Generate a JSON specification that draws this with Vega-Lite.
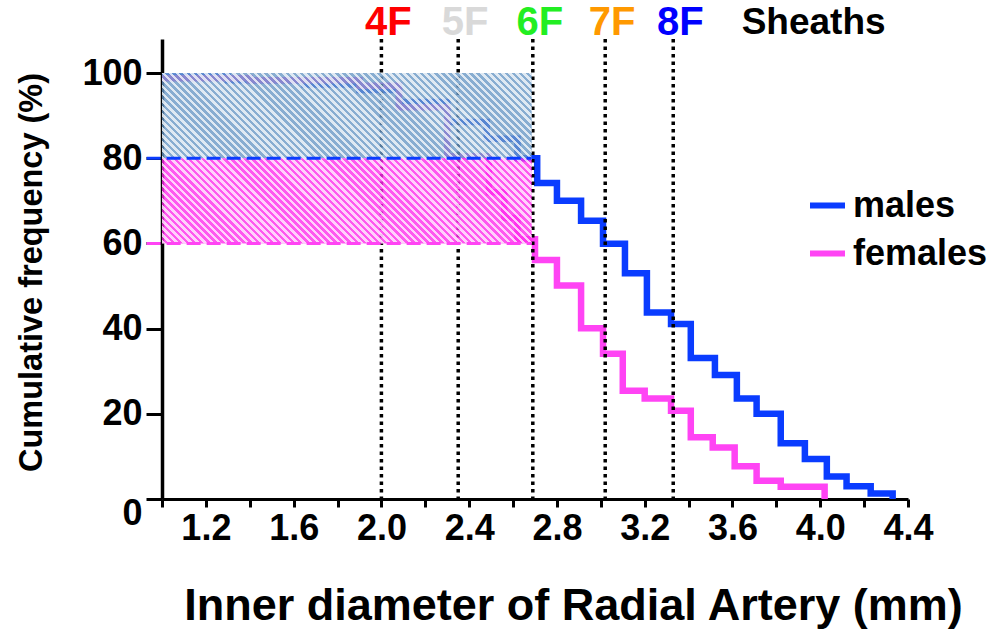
{
  "$schema": "https://vega.github.io/schema/vega-lite/v6.json",
  "width": 746,
  "height": 460,
  "autosize": {"type": "none"},
  "padding": {"left": 162, "top": 39, "right": 88, "bottom": 131},
  "background": "white",
  "config": {"view": {"stroke": null}, "font": "Liberation Sans"},
  "datasets": {
    "curves": [
      {"sex": "males", "d": 1.0, "p": 99.2}, {"sex": "males", "d": 1.3, "p": 98.3}, {"sex": "males", "d": 1.65, "p": 97.3}, {"sex": "males", "d": 1.9, "p": 96},
      {"sex": "males", "d": 2.08, "p": 93.2}, {"sex": "males", "d": 2.3, "p": 88.5}, {"sex": "males", "d": 2.48, "p": 84.6}, {"sex": "males", "d": 2.62, "p": 80},
      {"sex": "males", "d": 2.71, "p": 74.2}, {"sex": "males", "d": 2.8, "p": 70.0}, {"sex": "males", "d": 2.91, "p": 65.3}, {"sex": "males", "d": 3.01, "p": 59.9},
      {"sex": "males", "d": 3.11, "p": 53.0}, {"sex": "males", "d": 3.21, "p": 43.8}, {"sex": "males", "d": 3.32, "p": 41.1}, {"sex": "males", "d": 3.41, "p": 33.1},
      {"sex": "males", "d": 3.52, "p": 29.1}, {"sex": "males", "d": 3.62, "p": 23.6}, {"sex": "males", "d": 3.71, "p": 20.0}, {"sex": "males", "d": 3.82, "p": 13.1},
      {"sex": "males", "d": 3.93, "p": 9.4}, {"sex": "males", "d": 4.03, "p": 5.3}, {"sex": "males", "d": 4.12, "p": 3.0}, {"sex": "males", "d": 4.23, "p": 1.3},
      {"sex": "males", "d": 4.33, "p": 0},
      {"sex": "females", "d": 1.0, "p": 98.8}, {"sex": "females", "d": 1.4, "p": 98.3}, {"sex": "females", "d": 1.9, "p": 97}, {"sex": "females", "d": 2.08, "p": 92},
      {"sex": "females", "d": 2.3, "p": 80.5}, {"sex": "females", "d": 2.49, "p": 72}, {"sex": "females", "d": 2.56, "p": 66}, {"sex": "females", "d": 2.62, "p": 61},
      {"sex": "females", "d": 2.7, "p": 56.1}, {"sex": "females", "d": 2.8, "p": 50.1}, {"sex": "females", "d": 2.91, "p": 40.1}, {"sex": "females", "d": 3.01, "p": 34.1},
      {"sex": "females", "d": 3.1, "p": 25.4}, {"sex": "females", "d": 3.2, "p": 23.6}, {"sex": "females", "d": 3.32, "p": 20.7}, {"sex": "females", "d": 3.41, "p": 14.5},
      {"sex": "females", "d": 3.51, "p": 12.1}, {"sex": "females", "d": 3.61, "p": 7.7}, {"sex": "females", "d": 3.71, "p": 4.3}, {"sex": "females", "d": 3.82, "p": 2.9},
      {"sex": "females", "d": 4.02, "p": 0}
    ],
    "sheaths": [
      {"label": "4F", "od": 2.0}, {"label": "5F", "od": 2.35}, {"label": "6F", "od": 2.69}, {"label": "7F", "od": 3.02}, {"label": "8F", "od": 3.33}
    ],
    "bands": [
      {"g": "males", "x0": 1.0, "x1": 2.685, "lo": 80, "hi": 100},
      {"g": "females", "x0": 1.0, "x1": 2.685, "lo": 60, "hi": 80}
    ],
    "hatch": [{"x0": 1.0, "x1": 2.685, "lo": 60, "hi": 100}],
    "refs": [
      {"g": "males", "x0": 0.93, "x1": 2.685, "v": 80},
      {"g": "females", "x0": 0.93, "x1": 2.685, "v": 60}
    ]
  },
  "layer": [
    {
      "data": {"name": "curves"},
      "mark": {"type": "line", "interpolate": "step-after", "strokeWidth": 6.5, "strokeJoin": "miter", "clip": false},
      "encoding": {
        "x": {"field": "d", "type": "quantitative",
          "scale": {"domain": [1.0, 4.4], "nice": false, "zero": false},
          "axis": {"values": [1.0, 1.2, 1.4, 1.6, 1.8, 2.0, 2.2, 2.4, 2.6, 2.8, 3.0, 3.2, 3.4, 3.6, 3.8, 4.0, 4.2, 4.4],
            "labelExpr": "round(datum.value*10)%4==0 ? format(datum.value,'.1f') : ''",
            "title": "Inner diameter of Radial Artery (mm)", "grid": false,
            "tickSize": 8, "tickWidth": 3, "tickColor": "black", "domainWidth": 3, "domainColor": "black",
            "labelFontSize": 36, "labelFontWeight": "bold", "labelColor": "black", "labelPadding": 4,
            "labelFlush": false, "labelOverlap": false,
            "titleFontSize": 45, "titleFontWeight": "bold", "titleColor": "black",
            "titleX": 411, "titleY": 120, "titleBaseline": "alphabetic", "titleAlign": "center"}},
        "y": {"field": "p", "type": "quantitative",
          "scale": {"domain": [0, 108], "nice": false},
          "axis": {"values": [0, 20, 40, 60, 80, 100], "title": "Cumulative frequency (%)", "grid": false,
            "tickSize": 16, "tickWidth": 3, "tickColor": "black", "domainWidth": 3.5, "domainColor": "black",
            "labelFontSize": 36, "labelFontWeight": "bold", "labelColor": "black", "labelPadding": 4,
            "labelOffset": {"condition": {"test": "datum.value == 0", "value": 14}, "value": 0},
            "labelFlush": false,
            "titleFontSize": 32.5, "titleFontWeight": "bold", "titleColor": "black",
            "titleX": -131, "titleY": 233, "titleAngle": -90, "titleAlign": "center", "titleBaseline": "middle"}},
        "color": {"field": "sex", "type": "nominal",
          "scale": {"domain": ["males", "females"], "range": ["#0a3cff", "#ff44f4"]},
          "legend": {"orient": "none", "legendX": 645, "legendY": 146, "title": null,
            "symbolType": "stroke", "symbolStrokeWidth": 6, "symbolSize": 1225,
            "labelFontSize": 36, "labelFontWeight": "bold", "labelColor": "black",
            "labelOffset": 5, "rowPadding": 9, "padding": 0}}
      }
    },
    {
      "data": {"name": "sheaths"},
      "mark": {"type": "rule", "strokeWidth": 3.5, "strokeDash": [3.5, 4], "color": "black"},
      "encoding": {"x": {"field": "od", "type": "quantitative"}}
    },
    {
      "data": {"name": "bands"},
      "mark": {"type": "rect", "fillOpacity": 0.8},
      "encoding": {
        "x": {"field": "x0", "type": "quantitative"}, "x2": {"field": "x1"},
        "y": {"field": "lo", "type": "quantitative"}, "y2": {"field": "hi"},
        "fill": {"condition": {"test": "datum.g == 'males'", "value": "#6a98c6"}, "value": "#ff2eec"}
      }
    },
    {
      "data": {"name": "hatch"},
      "mark": {"type": "rect", "fill": {"gradient": "linear", "x1": 0, "y1": 1, "x2": 1.5777, "y2": 0.273, "stops": [
{"offset":0,"color":"#fffb"},{"offset":0.005,"color":"#fffb"},{"offset":0.005,"color":"#fff0"},{"offset":0.01,"color":"#fff0"},
{"offset":0.01,"color":"#fffb"},{"offset":0.015,"color":"#fffb"},{"offset":0.015,"color":"#fff0"},{"offset":0.02,"color":"#fff0"},
{"offset":0.02,"color":"#fffb"},{"offset":0.025,"color":"#fffb"},{"offset":0.025,"color":"#fff0"},{"offset":0.03,"color":"#fff0"},
{"offset":0.03,"color":"#fffb"},{"offset":0.035,"color":"#fffb"},{"offset":0.035,"color":"#fff0"},{"offset":0.04,"color":"#fff0"},
{"offset":0.04,"color":"#fffb"},{"offset":0.045,"color":"#fffb"},{"offset":0.045,"color":"#fff0"},{"offset":0.05,"color":"#fff0"},
{"offset":0.05,"color":"#fffb"},{"offset":0.055,"color":"#fffb"},{"offset":0.055,"color":"#fff0"},{"offset":0.06,"color":"#fff0"},
{"offset":0.06,"color":"#fffb"},{"offset":0.065,"color":"#fffb"},{"offset":0.065,"color":"#fff0"},{"offset":0.07,"color":"#fff0"},
{"offset":0.07,"color":"#fffb"},{"offset":0.075,"color":"#fffb"},{"offset":0.075,"color":"#fff0"},{"offset":0.08,"color":"#fff0"},
{"offset":0.08,"color":"#fffb"},{"offset":0.085,"color":"#fffb"},{"offset":0.085,"color":"#fff0"},{"offset":0.09,"color":"#fff0"},
{"offset":0.09,"color":"#fffb"},{"offset":0.095,"color":"#fffb"},{"offset":0.095,"color":"#fff0"},{"offset":0.1,"color":"#fff0"},
{"offset":0.1,"color":"#fffb"},{"offset":0.105,"color":"#fffb"},{"offset":0.105,"color":"#fff0"},{"offset":0.11,"color":"#fff0"},
{"offset":0.11,"color":"#fffb"},{"offset":0.115,"color":"#fffb"},{"offset":0.115,"color":"#fff0"},{"offset":0.12,"color":"#fff0"},
{"offset":0.12,"color":"#fffb"},{"offset":0.125,"color":"#fffb"},{"offset":0.125,"color":"#fff0"},{"offset":0.13,"color":"#fff0"},
{"offset":0.13,"color":"#fffb"},{"offset":0.135,"color":"#fffb"},{"offset":0.135,"color":"#fff0"},{"offset":0.14,"color":"#fff0"},
{"offset":0.14,"color":"#fffb"},{"offset":0.145,"color":"#fffb"},{"offset":0.145,"color":"#fff0"},{"offset":0.15,"color":"#fff0"},
{"offset":0.15,"color":"#fffb"},{"offset":0.155,"color":"#fffb"},{"offset":0.155,"color":"#fff0"},{"offset":0.16,"color":"#fff0"},
{"offset":0.16,"color":"#fffb"},{"offset":0.165,"color":"#fffb"},{"offset":0.165,"color":"#fff0"},{"offset":0.17,"color":"#fff0"},
{"offset":0.17,"color":"#fffb"},{"offset":0.175,"color":"#fffb"},{"offset":0.175,"color":"#fff0"},{"offset":0.18,"color":"#fff0"},
{"offset":0.18,"color":"#fffb"},{"offset":0.185,"color":"#fffb"},{"offset":0.185,"color":"#fff0"},{"offset":0.19,"color":"#fff0"},
{"offset":0.19,"color":"#fffb"},{"offset":0.195,"color":"#fffb"},{"offset":0.195,"color":"#fff0"},{"offset":0.2,"color":"#fff0"},
{"offset":0.2,"color":"#fffb"},{"offset":0.205,"color":"#fffb"},{"offset":0.205,"color":"#fff0"},{"offset":0.21,"color":"#fff0"},
{"offset":0.21,"color":"#fffb"},{"offset":0.215,"color":"#fffb"},{"offset":0.215,"color":"#fff0"},{"offset":0.22,"color":"#fff0"},
{"offset":0.22,"color":"#fffb"},{"offset":0.225,"color":"#fffb"},{"offset":0.225,"color":"#fff0"},{"offset":0.23,"color":"#fff0"},
{"offset":0.23,"color":"#fffb"},{"offset":0.235,"color":"#fffb"},{"offset":0.235,"color":"#fff0"},{"offset":0.24,"color":"#fff0"},
{"offset":0.24,"color":"#fffb"},{"offset":0.245,"color":"#fffb"},{"offset":0.245,"color":"#fff0"},{"offset":0.25,"color":"#fff0"},
{"offset":0.25,"color":"#fffb"},{"offset":0.255,"color":"#fffb"},{"offset":0.255,"color":"#fff0"},{"offset":0.26,"color":"#fff0"},
{"offset":0.26,"color":"#fffb"},{"offset":0.265,"color":"#fffb"},{"offset":0.265,"color":"#fff0"},{"offset":0.27,"color":"#fff0"},
{"offset":0.27,"color":"#fffb"},{"offset":0.275,"color":"#fffb"},{"offset":0.275,"color":"#fff0"},{"offset":0.28,"color":"#fff0"},
{"offset":0.28,"color":"#fffb"},{"offset":0.285,"color":"#fffb"},{"offset":0.285,"color":"#fff0"},{"offset":0.29,"color":"#fff0"},
{"offset":0.29,"color":"#fffb"},{"offset":0.295,"color":"#fffb"},{"offset":0.295,"color":"#fff0"},{"offset":0.3,"color":"#fff0"},
{"offset":0.3,"color":"#fffb"},{"offset":0.305,"color":"#fffb"},{"offset":0.305,"color":"#fff0"},{"offset":0.31,"color":"#fff0"},
{"offset":0.31,"color":"#fffb"},{"offset":0.315,"color":"#fffb"},{"offset":0.315,"color":"#fff0"},{"offset":0.32,"color":"#fff0"},
{"offset":0.32,"color":"#fffb"},{"offset":0.325,"color":"#fffb"},{"offset":0.325,"color":"#fff0"},{"offset":0.33,"color":"#fff0"},
{"offset":0.33,"color":"#fffb"},{"offset":0.335,"color":"#fffb"},{"offset":0.335,"color":"#fff0"},{"offset":0.34,"color":"#fff0"},
{"offset":0.34,"color":"#fffb"},{"offset":0.345,"color":"#fffb"},{"offset":0.345,"color":"#fff0"},{"offset":0.35,"color":"#fff0"},
{"offset":0.35,"color":"#fffb"},{"offset":0.355,"color":"#fffb"},{"offset":0.355,"color":"#fff0"},{"offset":0.36,"color":"#fff0"},
{"offset":0.36,"color":"#fffb"},{"offset":0.365,"color":"#fffb"},{"offset":0.365,"color":"#fff0"},{"offset":0.37,"color":"#fff0"},
{"offset":0.37,"color":"#fffb"},{"offset":0.375,"color":"#fffb"},{"offset":0.375,"color":"#fff0"},{"offset":0.38,"color":"#fff0"},
{"offset":0.38,"color":"#fffb"},{"offset":0.385,"color":"#fffb"},{"offset":0.385,"color":"#fff0"},{"offset":0.39,"color":"#fff0"},
{"offset":0.39,"color":"#fffb"},{"offset":0.395,"color":"#fffb"},{"offset":0.395,"color":"#fff0"},{"offset":0.4,"color":"#fff0"},
{"offset":0.4,"color":"#fffb"},{"offset":0.405,"color":"#fffb"},{"offset":0.405,"color":"#fff0"},{"offset":0.41,"color":"#fff0"},
{"offset":0.41,"color":"#fffb"},{"offset":0.415,"color":"#fffb"},{"offset":0.415,"color":"#fff0"},{"offset":0.42,"color":"#fff0"},
{"offset":0.42,"color":"#fffb"},{"offset":0.425,"color":"#fffb"},{"offset":0.425,"color":"#fff0"},{"offset":0.43,"color":"#fff0"},
{"offset":0.43,"color":"#fffb"},{"offset":0.435,"color":"#fffb"},{"offset":0.435,"color":"#fff0"},{"offset":0.44,"color":"#fff0"},
{"offset":0.44,"color":"#fffb"},{"offset":0.445,"color":"#fffb"},{"offset":0.445,"color":"#fff0"},{"offset":0.45,"color":"#fff0"},
{"offset":0.45,"color":"#fffb"},{"offset":0.455,"color":"#fffb"},{"offset":0.455,"color":"#fff0"},{"offset":0.46,"color":"#fff0"},
{"offset":0.46,"color":"#fffb"},{"offset":0.465,"color":"#fffb"},{"offset":0.465,"color":"#fff0"},{"offset":0.47,"color":"#fff0"},
{"offset":0.47,"color":"#fffb"},{"offset":0.475,"color":"#fffb"},{"offset":0.475,"color":"#fff0"},{"offset":0.48,"color":"#fff0"},
{"offset":0.48,"color":"#fffb"},{"offset":0.485,"color":"#fffb"},{"offset":0.485,"color":"#fff0"},{"offset":0.49,"color":"#fff0"},
{"offset":0.49,"color":"#fffb"},{"offset":0.495,"color":"#fffb"},{"offset":0.495,"color":"#fff0"},{"offset":0.5,"color":"#fff0"},
{"offset":0.5,"color":"#fffb"},{"offset":0.505,"color":"#fffb"},{"offset":0.505,"color":"#fff0"},{"offset":0.51,"color":"#fff0"},
{"offset":0.51,"color":"#fffb"},{"offset":0.515,"color":"#fffb"},{"offset":0.515,"color":"#fff0"},{"offset":0.52,"color":"#fff0"},
{"offset":0.52,"color":"#fffb"},{"offset":0.525,"color":"#fffb"},{"offset":0.525,"color":"#fff0"},{"offset":0.53,"color":"#fff0"},
{"offset":0.53,"color":"#fffb"},{"offset":0.535,"color":"#fffb"},{"offset":0.535,"color":"#fff0"},{"offset":0.54,"color":"#fff0"},
{"offset":0.54,"color":"#fffb"},{"offset":0.545,"color":"#fffb"},{"offset":0.545,"color":"#fff0"},{"offset":0.55,"color":"#fff0"},
{"offset":0.55,"color":"#fffb"},{"offset":0.555,"color":"#fffb"},{"offset":0.555,"color":"#fff0"},{"offset":0.56,"color":"#fff0"},
{"offset":0.56,"color":"#fffb"},{"offset":0.565,"color":"#fffb"},{"offset":0.565,"color":"#fff0"},{"offset":0.57,"color":"#fff0"},
{"offset":0.57,"color":"#fffb"},{"offset":0.575,"color":"#fffb"},{"offset":0.575,"color":"#fff0"},{"offset":0.58,"color":"#fff0"},
{"offset":0.58,"color":"#fffb"},{"offset":0.585,"color":"#fffb"},{"offset":0.585,"color":"#fff0"},{"offset":0.59,"color":"#fff0"},
{"offset":0.59,"color":"#fffb"},{"offset":0.595,"color":"#fffb"},{"offset":0.595,"color":"#fff0"},{"offset":0.6,"color":"#fff0"},
{"offset":0.6,"color":"#fffb"},{"offset":0.605,"color":"#fffb"},{"offset":0.605,"color":"#fff0"},{"offset":0.61,"color":"#fff0"},
{"offset":0.61,"color":"#fffb"},{"offset":0.615,"color":"#fffb"},{"offset":0.615,"color":"#fff0"},{"offset":0.62,"color":"#fff0"},
{"offset":0.62,"color":"#fffb"},{"offset":0.625,"color":"#fffb"},{"offset":0.625,"color":"#fff0"},{"offset":0.63,"color":"#fff0"},
{"offset":0.63,"color":"#fffb"},{"offset":0.635,"color":"#fffb"},{"offset":0.635,"color":"#fff0"},{"offset":0.64,"color":"#fff0"},
{"offset":0.64,"color":"#fffb"},{"offset":0.645,"color":"#fffb"},{"offset":0.645,"color":"#fff0"},{"offset":0.65,"color":"#fff0"},
{"offset":0.65,"color":"#fffb"},{"offset":0.655,"color":"#fffb"},{"offset":0.655,"color":"#fff0"},{"offset":0.66,"color":"#fff0"},
{"offset":0.66,"color":"#fffb"},{"offset":0.665,"color":"#fffb"},{"offset":0.665,"color":"#fff0"},{"offset":0.67,"color":"#fff0"},
{"offset":0.67,"color":"#fffb"},{"offset":0.675,"color":"#fffb"},{"offset":0.675,"color":"#fff0"},{"offset":0.68,"color":"#fff0"},
{"offset":0.68,"color":"#fffb"},{"offset":0.685,"color":"#fffb"},{"offset":0.685,"color":"#fff0"},{"offset":0.69,"color":"#fff0"},
{"offset":0.69,"color":"#fffb"},{"offset":0.695,"color":"#fffb"},{"offset":0.695,"color":"#fff0"},{"offset":0.7,"color":"#fff0"},
{"offset":0.7,"color":"#fffb"},{"offset":0.705,"color":"#fffb"},{"offset":0.705,"color":"#fff0"},{"offset":0.71,"color":"#fff0"},
{"offset":0.71,"color":"#fffb"},{"offset":0.715,"color":"#fffb"},{"offset":0.715,"color":"#fff0"},{"offset":0.72,"color":"#fff0"},
{"offset":0.72,"color":"#fffb"},{"offset":0.725,"color":"#fffb"},{"offset":0.725,"color":"#fff0"},{"offset":0.73,"color":"#fff0"},
{"offset":0.73,"color":"#fffb"},{"offset":0.735,"color":"#fffb"},{"offset":0.735,"color":"#fff0"},{"offset":0.74,"color":"#fff0"},
{"offset":0.74,"color":"#fffb"},{"offset":0.745,"color":"#fffb"},{"offset":0.745,"color":"#fff0"},{"offset":0.75,"color":"#fff0"},
{"offset":0.75,"color":"#fffb"},{"offset":0.755,"color":"#fffb"},{"offset":0.755,"color":"#fff0"},{"offset":0.76,"color":"#fff0"},
{"offset":0.76,"color":"#fffb"},{"offset":0.765,"color":"#fffb"},{"offset":0.765,"color":"#fff0"},{"offset":0.77,"color":"#fff0"}
      ]}},
      "encoding": {
        "x": {"field": "x0", "type": "quantitative"}, "x2": {"field": "x1"},
        "y": {"field": "lo", "type": "quantitative"}, "y2": {"field": "hi"}
      }
    },
    {
      "data": {"name": "refs"},
      "mark": {"type": "rule", "strokeWidth": 3, "strokeDash": [14, 6], "clip": false},
      "encoding": {
        "x": {"field": "x0", "type": "quantitative"}, "x2": {"field": "x1"},
        "y": {"field": "v", "type": "quantitative"},
        "color": {"field": "g", "type": "nominal", "legend": null}
      }
    },
    {
      "data": {"name": "sheaths"},
      "mark": {"type": "text", "fontSize": 40, "fontWeight": "bold", "dx": 7, "baseline": "middle", "align": "center"},
      "encoding": {
        "x": {"field": "od", "type": "quantitative"},
        "y": {"datum": 111.7},
        "text": {"field": "label"},
        "fill": {"field": "label", "type": "nominal",
          "scale": {"domain": ["4F", "5F", "6F", "7F", "8F"], "range": ["#ff0000", "#d9d9d9", "#22ee22", "#ff9900", "#0000ff"]},
          "legend": null}
      }
    },
    {
      "data": {"values": [{"t": "Sheaths"}]},
      "mark": {"type": "text", "fontSize": 37, "fontWeight": "bold", "color": "black", "baseline": "middle", "align": "center"},
      "encoding": {
        "x": {"datum": 3.97},
        "y": {"datum": 111.7},
        "text": {"field": "t"}
      }
    }
  ]
}
